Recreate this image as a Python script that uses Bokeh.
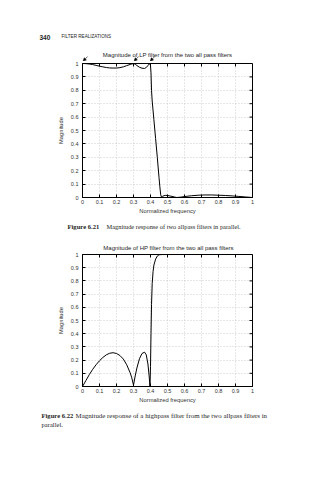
from bokeh.plotting import figure
from bokeh.layouts import column
from bokeh.models import Arrow, NormalHead, FixedTicker, Range1d
from bokeh.core.properties import value
from bokeh.embed import file_html
from bokeh.resources import INLINE

# ---------------- data ----------------
ticks_x = [0, 0.1, 0.2, 0.3, 0.4, 0.5, 0.6, 0.7, 0.8, 0.9, 1]
ticks_y = [0, 0.1, 0.2, 0.3, 0.4, 0.5, 0.6, 0.7, 0.8, 0.9, 1]
tick_labels = {0: "0", 0.1: "0.1", 0.2: "0.2", 0.3: "0.3", 0.4: "0.4", 0.5: "0.5",
               0.6: "0.6", 0.7: "0.7", 0.8: "0.8", 0.9: "0.9", 1: "1"}

freq_lp = [0.000, 0.020, 0.040, 0.060, 0.080, 0.100, 0.120, 0.140, 0.160, 0.180,
           0.200, 0.220, 0.240, 0.260, 0.280, 0.300, 0.310, 0.320, 0.335, 0.350,
           0.365, 0.375, 0.385, 0.395, 0.400, 0.403, 0.406, 0.410, 0.420, 0.430,
           0.440, 0.450, 0.455, 0.460, 0.465, 0.470, 0.480, 0.490, 0.500, 0.520,
           0.540, 0.555, 0.580, 0.600, 0.640, 0.680, 0.720, 0.760, 0.800, 0.840,
           0.880, 0.920, 0.960, 1.000]
mag_lp = [1.000, 0.999, 0.996, 0.992, 0.986, 0.980, 0.975, 0.970, 0.967, 0.966,
          0.966, 0.969, 0.975, 0.984, 0.993, 1.000, 0.995, 0.985, 0.972, 0.965,
          0.963, 0.970, 0.985, 1.000, 0.985, 0.930, 0.800, 0.720, 0.580, 0.440,
          0.300, 0.150, 0.080, 0.020, 0.002, 0.008, 0.014, 0.016, 0.015, 0.010,
          0.004, 0.000, 0.003, 0.007, 0.013, 0.017, 0.019, 0.019, 0.017, 0.015,
          0.012, 0.008, 0.004, 0.000]

freq_hp = [0.000, 0.020, 0.040, 0.060, 0.080, 0.100, 0.120, 0.140, 0.160, 0.180,
           0.200, 0.220, 0.240, 0.260, 0.280, 0.290, 0.300, 0.310, 0.320, 0.335,
           0.350, 0.365, 0.375, 0.385, 0.392, 0.397, 0.400, 0.403, 0.406, 0.410,
           0.415, 0.420, 0.430, 0.440, 0.450, 0.470, 0.500, 0.600, 0.700, 0.800,
           0.900, 1.000]
mag_hp = [0.000, 0.045, 0.090, 0.130, 0.165, 0.195, 0.220, 0.240, 0.252, 0.256,
          0.250, 0.235, 0.208, 0.165, 0.105, 0.065, 0.010, 0.080, 0.140, 0.210,
          0.250, 0.260, 0.240, 0.170, 0.080, 0.000, 0.150, 0.400, 0.620, 0.780,
          0.870, 0.920, 0.965, 0.988, 0.998, 1.000, 1.000, 1.000, 1.000, 1.000,
          1.000, 1.000]

peak_freqs = [0.0, 0.3, 0.395]

header_page = "340"
header_section = "FILTER REALIZATIONS"
title_lp = "Magnitude of LP filter from the two all pass filters"
title_hp = "Magnitude of HP filter from the two all pass filters"
cap1_num = "Figure 6.21"
cap1_text = "Magnitude response of two allpass filters in parallel."
cap2_num = "Figure 6.22"
cap2_text = "Magnitude response of a highpass filter from the two allpass filters in"
cap2_line2 = "parallel."

SANS = "Liberation Sans"
SERIF = "Liberation Serif"
W = 317
FL, FR = 82, 65          # left / right borders of both plot frames
FW = W - FL - FR


def strip(height):
    s = figure(width=W, height=height, x_range=Range1d(0, W), y_range=Range1d(height, 0),
               output_backend="svg", toolbar_location=None, x_axis_type=None, y_axis_type=None,
               min_border_left=0, min_border_right=0, min_border_top=0, min_border_bottom=0,
               frame_align=False)
    s.grid.visible = False
    s.outline_line_color = None
    s.background_fill_color = "white"
    s.border_fill_color = "white"
    return s


def txt(s, x, y, t, size, font=SANS, style="normal", align="left", color="#1e1e1e"):
    s.text(x=[x], y=[y], text=[t], text_font=value(font), text_font_size=value(size),
           text_font_style=style, text_align=align, text_baseline="alphabetic",
           text_color=color)


def make_fig(height, top, bottom):
    p = figure(width=W, height=height, x_range=Range1d(0, 1), y_range=Range1d(0, 1),
               output_backend="svg", toolbar_location=None,
               min_border_left=FL, min_border_right=FR,
               min_border_top=top, min_border_bottom=bottom,
               x_axis_label="Normalized frequency", y_axis_label="Magnitude",
               frame_align=False)
    p.outline_line_color = "black"
    p.background_fill_color = "white"
    p.border_fill_color = "white"
    for ax in (p.xaxis[0], p.yaxis[0]):
        ax.major_label_text_font = SANS
        ax.major_label_text_font_size = "5.5px"
        ax.major_label_text_color = "#333333"
        ax.axis_label_text_font = SANS
        ax.axis_label_text_font_size = "5.8px"
        ax.axis_label_text_font_style = "normal"
        ax.axis_label_text_color = "#333333"
        ax.major_tick_in = 3
        ax.major_tick_out = 0
        ax.minor_tick_line_color = None
        ax.axis_line_color = "black"
        ax.major_tick_line_color = "black"
        ax.major_label_standoff = 2
        ax.axis_label_standoff = 1
    p.xaxis[0].ticker = FixedTicker(ticks=ticks_x)
    p.yaxis[0].ticker = FixedTicker(ticks=ticks_y)
    p.xaxis[0].major_label_overrides = tick_labels
    p.yaxis[0].major_label_overrides = tick_labels
    p.yaxis[0].major_label_standoff = 4
    p.yaxis[0].axis_label_standoff = 4
    p.xgrid.ticker = FixedTicker(ticks=ticks_x)
    p.ygrid.ticker = FixedTicker(ticks=ticks_y)
    for g in (p.xgrid[0], p.ygrid[0]):
        g.grid_line_color = "#b0b0b0"
        g.grid_line_dash = "1 2"
        g.grid_line_width = 0.6
    # inward ticks on the top and right edges of the box (3 px long)
    fh = height - top - bottom
    p.segment(x0=ticks_x, y0=[1] * len(ticks_x), x1=ticks_x, y1=[1 - 3 / fh] * len(ticks_x),
              line_color="black", line_width=1)
    p.segment(x0=[1] * len(ticks_y), y0=ticks_y, x1=[1 - 3 / FW] * len(ticks_y), y1=ticks_y,
              line_color="black", line_width=1)
    return p


# ---------------- strip 1: page header + LP title + peak arrows ----------------
s1 = strip(61)
# frequency scale aligned with the plot frame below (0 at left border, 1 at right border)
s1.extra_x_ranges = {"freq": Range1d(-FL / FW, (W - FL) / FW)}
txt(s1, 39, 36.5, header_page, "6.5px", style="bold")
txt(s1, 61, 36, header_section, "4.6px")
txt(s1, 167, 54.5, title_lp, "6px", align="center")
for fx in peak_freqs:
    s1.add_layout(Arrow(end=NormalHead(size=3, line_width=0.5, fill_color="black"),
                        x_start=fx + 0.03, y_start=56, x_end=fx + 0.004, y_end=60.5,
                        x_range_name="freq", line_width=0.6, line_color="black"))

# ---------------- figure 1 ----------------
p1 = make_fig(156, 2, 20)
p1.line(freq_lp, mag_lp, line_color="black", line_width=1)

# ---------------- strip 2: caption 6.21 + HP title ----------------
s2 = strip(34)
txt(s2, 67, 9, cap1_num, "6.6px", font=SERIF, style="bold")
txt(s2, 106, 9, cap1_text, "6.4px", font=SERIF)
txt(s2, 168, 30, title_hp, "6px", align="center")

# ---------------- figure 2 ----------------
p2 = make_fig(154, 3, 18)
p2.line(freq_hp, mag_hp, line_color="black", line_width=1)

# ---------------- strip 3: caption 6.22 ----------------
s3 = strip(75)
txt(s3, 41, 10, cap2_num, "6.6px", font=SERIF, style="bold")
txt(s3, 75, 10, cap2_text, "6.9px", font=SERIF)
txt(s3, 41, 18.5, cap2_line2, "6.6px", font=SERIF)

layout = column(s1, p1, s2, p2, s3, spacing=0)
open("out.html", "w").write(file_html(layout, INLINE))
